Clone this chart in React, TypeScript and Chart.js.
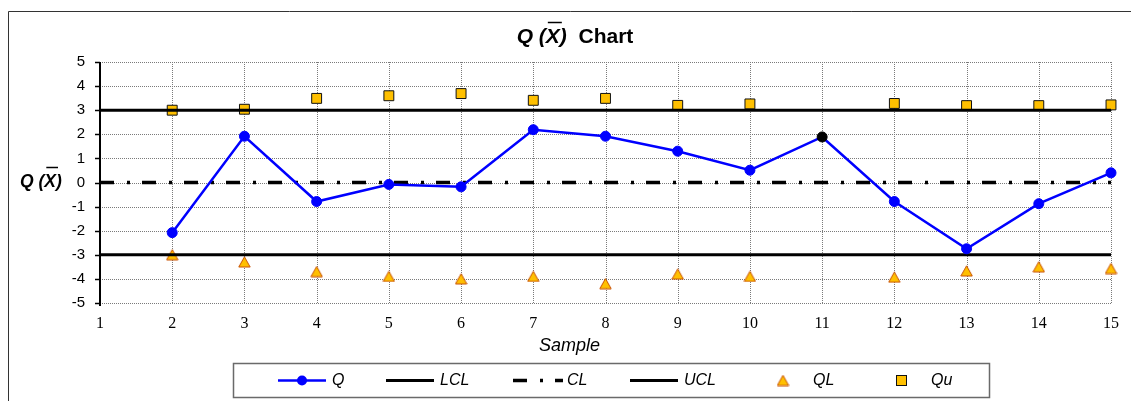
import React, { useEffect, useRef } from 'react';
import { Chart, registerables } from 'chart.js';

Chart.register(...registerables);

const SAMPLES = ['1', '2', '3', '4', '5', '6', '7', '8', '9', '10', '11', '12', '13', '14', '15'];
const Q_VALUES = [null, -2.08, 1.92, -0.79, -0.08, -0.18, 2.19, 1.92, 1.3, 0.51, 1.89, -0.79, -2.75, -0.88, 0.4];
const LCL_VALUES = [-3, -3, -3, -3, -3, -3, -3, -3, -3, -3, -3, -3, -3, -3, -3];
const CL_VALUES = [0, 0, 0, 0, 0, 0, 0, 0, 0, 0, 0, 0, 0, 0, 0];
const UCL_VALUES = [3, 3, 3, 3, 3, 3, 3, 3, 3, 3, 3, 3, 3, 3, 3];
const QL_VALUES = [null, -3.0, -3.3, -3.7, -3.9, -4.0, -3.9, -4.2, -3.8, -3.9, null, -3.93, -3.67, -3.5, -3.57];
const QU_VALUES = [null, 3.0, 3.04, 3.49, 3.6, 3.69, 3.41, 3.49, 3.2, 3.26, null, 3.28, 3.19, 3.19, 3.22];
const HIGHLIGHT_SAMPLES = ['11'];
const Y_MIN = -5;
const Y_MAX = 5;
const Y_STEP = 1;
const SERIES_NAMES = ['Q', 'LCL', 'CL', 'UCL', 'QL', 'Qu'];

const SANS = '"Liberation Sans", Arial, sans-serif';
const SERIF = '"Liberation Serif", "Times New Roman", serif';
const CL_DASH = [14, 13, 3, 12];

function makeTriangle(): HTMLCanvasElement {
  const c = document.createElement('canvas');
  c.width = 13;
  c.height = 12;
  const g = c.getContext('2d')!;
  g.beginPath();
  g.moveTo(6.5, 0.8);
  g.lineTo(12.2, 11);
  g.lineTo(0.8, 11);
  g.closePath();
  g.fillStyle = '#FFC000';
  g.fill();
  g.lineWidth = 1;
  g.strokeStyle = '#C85000';
  g.stroke();
  return c;
}

function drawOverlinedLabel(ctx: CanvasRenderingContext2D, x: number, baseline: number, size: number, overlineY: number, suffix: string) {
  const italic = `italic bold ${size}px ${SANS}`;
  ctx.textBaseline = 'alphabetic';
  ctx.textAlign = 'left';
  ctx.fillStyle = '#000';
  ctx.font = italic;
  let cx = x;
  ctx.fillText('Q (', cx, baseline);
  cx += ctx.measureText('Q (').width;
  const xw = ctx.measureText('X').width;
  ctx.fillText('X', cx, baseline);
  ctx.save();
  ctx.strokeStyle = '#000';
  ctx.lineWidth = 1.5;
  ctx.beginPath();
  ctx.moveTo(cx + 2, overlineY);
  ctx.lineTo(cx + xw + 2, overlineY);
  ctx.stroke();
  ctx.restore();
  cx += xw;
  ctx.fillText(')', cx, baseline);
  cx += ctx.measureText(')').width;
  if (suffix) {
    ctx.font = `bold ${size}px ${SANS}`;
    ctx.fillText(suffix, cx, baseline);
  }
}

export default function App() {
  const ref = useRef<HTMLCanvasElement | null>(null);

  useEffect(() => {
    const canvas = ref.current;
    if (!canvas) return;
    const tri = makeTriangle();
    const qColors = SAMPLES.map((s) => (HIGHLIGHT_SAMPLES.includes(s) ? '#000000' : '#0000FF'));

    const decor = {
      id: 'decor',
      beforeDraw(chart: any) {
        const ctx = chart.ctx as CanvasRenderingContext2D;
        ctx.save();
        ctx.fillStyle = '#fff';
        ctx.fillRect(0, 0, chart.width, chart.height);
        ctx.strokeStyle = '#333';
        ctx.lineWidth = 1;
        ctx.beginPath();
        ctx.moveTo(8.5, chart.height + 2);
        ctx.lineTo(8.5, 11.5);
        ctx.lineTo(chart.width + 2, 11.5);
        ctx.stroke();
        ctx.restore();
      },
      beforeDatasetsDraw(chart: any) {
        const ctx = chart.ctx as CanvasRenderingContext2D;
        const a = chart.chartArea;
        const xs = chart.scales.x;
        const ys = chart.scales.y;
        ctx.save();
        ctx.strokeStyle = '#7a7a7a';
        ctx.lineWidth = 1;
        ctx.setLineDash([1, 1]);
        for (let i = 1; i < SAMPLES.length; i++) {
          const px = Math.round(xs.getPixelForValue(i)) + 0.5;
          ctx.beginPath();
          ctx.moveTo(px, a.top);
          ctx.lineTo(px, a.bottom);
          ctx.stroke();
        }
        for (let v = Y_MIN; v <= Y_MAX; v += Y_STEP) {
          const py = Math.round(ys.getPixelForValue(v)) + 0.5;
          ctx.beginPath();
          ctx.moveTo(a.left, py);
          ctx.lineTo(a.right, py);
          ctx.stroke();
        }
        ctx.setLineDash([]);
        ctx.strokeStyle = '#000';
        ctx.lineWidth = 1.5;
        for (let v = Y_MIN; v <= Y_MAX; v += Y_STEP) {
          const py = Math.round(ys.getPixelForValue(v)) + 0.5;
          ctx.beginPath();
          ctx.moveTo(a.left - 5, py);
          ctx.lineTo(a.left, py);
          ctx.stroke();
        }
        ctx.lineWidth = 2;
        ctx.beginPath();
        ctx.moveTo(a.left, a.top);
        ctx.lineTo(a.left, a.bottom + 3);
        ctx.stroke();
        ctx.restore();
      },
      afterDraw(chart: any) {
        const ctx = chart.ctx as CanvasRenderingContext2D;
        ctx.save();
        // Title
        ctx.font = `italic bold 21px ${SANS}`;
        const w1 = ctx.measureText('Q (X)').width;
        ctx.font = `bold 21px ${SANS}`;
        const w2 = ctx.measureText('  Chart').width;
        drawOverlinedLabel(ctx, 575 - (w1 + w2) / 2, 43, 21, 22.5, '  Chart');
        // Y title
        drawOverlinedLabel(ctx, 20, 187, 17.5, 167.5, '');
        // X title
        ctx.font = `italic 18px ${SANS}`;
        ctx.textAlign = 'center';
        ctx.textBaseline = 'alphabetic';
        ctx.fillStyle = '#000';
        ctx.fillText('Sample', 569.5, 351);
        // Legend
        ctx.strokeStyle = '#6a6a6a';
        ctx.lineWidth = 1.5;
        ctx.strokeRect(233.5, 363.5, 756, 34);
        const xs0 = [278, 386, 513, 630, 759, 877];
        const ly = 380.5;
        chart.data.datasets.forEach((ds: any, i: number) => {
          const x0 = xs0[i];
          ctx.save();
          if (i <= 3) {
            ctx.strokeStyle = ds.borderColor;
            ctx.lineWidth = ds.borderWidth;
            ctx.setLineDash(ds.borderDash || []);
            ctx.beginPath();
            ctx.moveTo(x0, ly);
            ctx.lineTo(x0 + (i === 2 ? 50 : 48), ly);
            ctx.stroke();
          }
          ctx.setLineDash([]);
          if (i === 0) {
            ctx.fillStyle = '#0000FF';
            ctx.beginPath();
            ctx.arc(x0 + 24, ly, 5, 0, Math.PI * 2);
            ctx.fill();
          } else if (i === 4) {
            ctx.drawImage(tri, x0 + 24 - tri.width / 2, ly - tri.height / 2);
          } else if (i === 5) {
            ctx.fillStyle = ds.pointBackgroundColor;
            ctx.strokeStyle = ds.pointBorderColor;
            ctx.lineWidth = 1;
            ctx.fillRect(x0 + 19.5, ly - 5, 10, 10);
            ctx.strokeRect(x0 + 19.5, ly - 5, 10, 10);
          }
          ctx.restore();
          ctx.font = `italic 16px ${SANS}`;
          ctx.textAlign = 'left';
          ctx.textBaseline = 'middle';
          ctx.fillStyle = '#000';
          ctx.fillText(ds.label, x0 + 54, ly + 0.5);
        });
        ctx.restore();
      },
    };

    const chart = new Chart(canvas, {
      type: 'line',
      data: {
        labels: SAMPLES,
        datasets: [
          {
            label: SERIES_NAMES[0],
            data: Q_VALUES,
            borderColor: '#0000FF',
            borderWidth: 2.5,
            pointRadius: 5,
            pointBackgroundColor: qColors,
            pointBorderColor: qColors,
            pointBorderWidth: 1,
            spanGaps: true,
          },
          {
            label: SERIES_NAMES[1],
            data: LCL_VALUES,
            borderColor: '#000000',
            borderWidth: 3,
            pointRadius: 0,
          },
          {
            label: SERIES_NAMES[2],
            data: CL_VALUES,
            borderColor: '#000000',
            borderWidth: 3.5,
            borderDash: CL_DASH,
            borderCapStyle: 'butt',
            pointRadius: 0,
          },
          {
            label: SERIES_NAMES[3],
            data: UCL_VALUES,
            borderColor: '#000000',
            borderWidth: 3,
            pointRadius: 0,
          },
          {
            label: SERIES_NAMES[4],
            data: QL_VALUES,
            showLine: false,
            pointStyle: tri,
            pointRadius: 6,
            borderColor: '#C85000',
            backgroundColor: '#FFC000',
          },
          {
            label: SERIES_NAMES[5],
            data: QU_VALUES,
            showLine: false,
            pointStyle: 'rect',
            pointRadius: 7,
            pointBackgroundColor: '#FFC000',
            pointBorderColor: '#111111',
            pointBorderWidth: 1,
            borderColor: '#111111',
            backgroundColor: '#FFC000',
          },
        ],
      } as any,
      options: {
        animation: false,
        responsive: false,
        maintainAspectRatio: false,
        devicePixelRatio: 1,
        layout: { padding: { left: 0, top: 62, right: 20, bottom: 0 } },
        plugins: {
          legend: { display: false },
          title: { display: false },
          tooltip: { enabled: false },
        },
        scales: {
          x: {
            type: 'category',
            offset: false,
            grid: { display: false, drawTicks: false },
            border: { display: false },
            ticks: {
              font: { family: SERIF, size: 16 },
              color: '#000',
              padding: 11,
              maxRotation: 0,
              autoSkip: false,
            },
            afterFit: (s: any) => {
              s.height = 98;
              s.paddingLeft = 0;
              s.paddingRight = 0;
            },
          },
          y: {
            min: Y_MIN,
            max: Y_MAX,
            grid: { display: false, drawTicks: false },
            border: { display: false },
            ticks: {
              stepSize: Y_STEP,
              font: { family: SANS, size: 15 },
              color: '#000',
              padding: 15,
            },
            afterFit: (s: any) => {
              s.width = 100;
              s.paddingTop = 0;
              s.paddingBottom = 0;
            },
          },
        },
      } as any,
      plugins: [decor],
    });
    return () => chart.destroy();
  }, []);

  return (
    <div style={{ position: 'fixed', left: 0, top: 0, width: 1131, height: 401, background: '#fff' }}>
      <canvas ref={ref} width={1131} height={401} style={{ width: 1131, height: 401, display: 'block' }} />
    </div>
  );
}
